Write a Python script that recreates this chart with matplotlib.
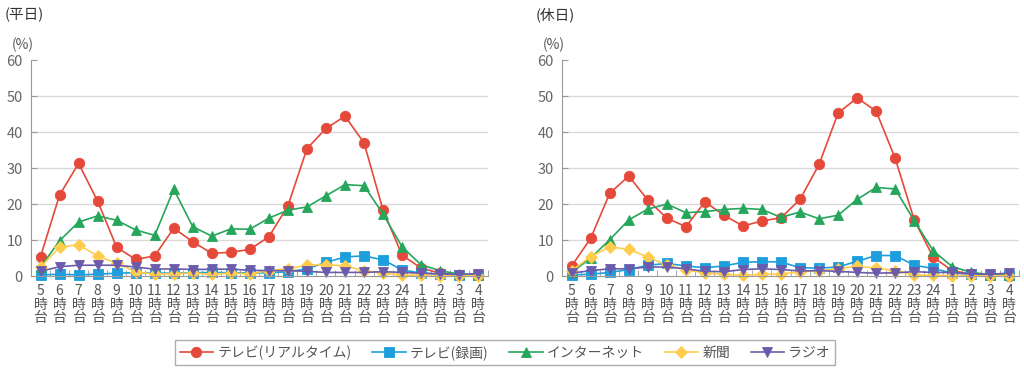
import matplotlib
matplotlib.use("Agg")
import matplotlib.pyplot as plt
import numpy as np

plt.rcParams['font.family'] = ['Noto Sans CJK JP', 'DejaVu Sans']

# === Data ===
hours = ["5", "6", "7", "8", "9", "10", "11", "12", "13", "14", "15", "16",
         "17", "18", "19", "20", "21", "22", "23", "24", "1", "2", "3", "4"]
series_names = ["テレビ(リアルタイム)", "テレビ(録画)", "インターネット", "新聞", "ラジオ"]

# 平日 (weekday)
wd_tv_real = [5.4, 22.5, 31.3, 20.8, 8.0, 4.6, 5.6, 13.3, 9.5, 6.3, 6.6, 7.4,
              10.9, 19.5, 35.4, 41.0, 44.4, 37.0, 18.3, 5.8, 2.2, 0.8, 0.3, 0.2]
wd_tv_rec = [0.3, 0.5, 0.3, 0.5, 0.8, 0.9, 0.8, 0.8, 0.9, 1.0, 0.9, 0.9,
             0.9, 1.2, 2.0, 3.8, 5.3, 5.6, 4.5, 1.7, 0.8, 0.5, 0.3, 0.2]
wd_net = [2.5, 9.8, 15.0, 16.7, 15.5, 12.8, 11.3, 24.1, 13.7, 11.1, 13.1, 13.0,
          16.1, 18.3, 19.2, 22.3, 25.4, 25.1, 17.2, 8.1, 3.1, 1.5, 0.5, 0.3]
wd_paper = [2.5, 8.0, 8.7, 5.6, 3.5, 1.2, 0.5, 0.7, 0.8, 0.5, 0.8, 0.6,
            1.5, 2.0, 3.0, 3.2, 2.8, 1.5, 0.8, 0.3, 0.2, 0.1, 0.1, 0.1]
wd_radio = [1.3, 2.6, 3.0, 3.0, 3.0, 2.5, 1.9, 2.0, 1.8, 1.9, 1.9, 1.6,
            1.5, 1.5, 1.3, 1.0, 1.0, 1.0, 1.2, 1.0, 0.8, 0.6, 0.4, 0.7]

# 休日 (holiday)
hd_tv_real = [2.8, 10.5, 23.0, 27.8, 21.1, 16.1, 13.7, 20.6, 16.9, 13.9, 15.3, 16.2,
              21.3, 31.0, 45.3, 49.5, 45.8, 32.7, 15.6, 5.2, 1.5, 0.5, 0.2, 0.1]
hd_tv_rec = [0.3, 0.5, 1.0, 1.8, 3.0, 3.5, 2.8, 2.3, 2.8, 3.8, 4.0, 3.9,
             2.3, 2.2, 2.5, 4.1, 5.7, 5.7, 3.0, 2.1, 0.8, 0.5, 0.2, 0.2]
hd_net = [1.0, 5.0, 10.1, 15.6, 18.6, 20.0, 17.6, 17.9, 18.5, 18.8, 18.5, 16.3,
          17.8, 15.9, 16.9, 21.3, 24.6, 24.2, 15.4, 7.0, 2.6, 1.0, 0.4, 0.2]
hd_paper = [1.5, 5.4, 8.1, 7.4, 5.3, 3.0, 1.8, 0.8, 0.5, 0.2, 0.5, 0.5,
            1.2, 1.5, 2.0, 2.7, 2.2, 1.5, 0.3, 0.2, 0.1, 0.1, 0.1, 0.1]
hd_radio = [0.8, 1.5, 2.0, 2.0, 2.5, 2.5, 2.0, 1.3, 1.2, 1.8, 2.0, 1.8,
            1.4, 1.5, 1.3, 1.0, 0.8, 0.9, 1.2, 1.0, 1.0, 0.6, 0.5, 0.8]

colors = ['#E5493A', '#1E9FDD', '#25A65B', '#FFCC4D', '#6C5AAB']
markers = ['o', 's', '^', 'D', 'v']
msizes = [7.5, 6.5, 7.5, 6.5, 7.5]

panels = [
    ("(平日)", [wd_tv_real, wd_tv_rec, wd_net, wd_paper, wd_radio]),
    ("(休日)", [hd_tv_real, hd_tv_rec, hd_net, hd_paper, hd_radio]),
]

fig = plt.figure(figsize=(10.24, 3.71), dpi=100)
axes_lefts = [0.0303, 0.549]
x = np.arange(len(hours))
xlabels = [h + "\n時\n台" for h in hours]

lines = []
for (title, data), left in zip(panels, axes_lefts):
    ax = fig.add_axes([left, 0.256, 0.446, 0.582])
    for vals, c, m, ms, name in zip(data, colors, markers, msizes, series_names):
        ln, = ax.plot(x, vals, color=c, marker=m, markersize=ms, linewidth=1.2,
                      markeredgecolor=c, markeredgewidth=0.6, clip_on=False, label=name)
        if left == axes_lefts[0]:
            lines.append(ln)
    ax.set_xlim(-0.42, 23.47)
    ax.set_ylim(0, 60)
    ax.set_yticks(range(0, 61, 10))
    ax.set_xticks(x)
    ax.set_xticklabels(xlabels, fontsize=10, linespacing=0.95, color='#555555')
    ax.set_xticks(np.arange(-0.5, 24, 1.0), minor=True)
    ax.tick_params(axis='x', which='major', length=0, pad=6)
    ax.tick_params(axis='x', which='minor', direction='in', length=4, color='#999999')
    ax.tick_params(axis='y', direction='in', length=4, color='#999999',
                   labelsize=10.5, labelcolor='#666666', pad=6)
    for yv in range(10, 60, 10):
        ax.axhline(yv, color='#d9d9d9', linewidth=1.0, zorder=0)
    ax.spines['top'].set_visible(False)
    ax.spines['right'].set_visible(False)
    ax.spines['left'].set_color('#999999')
    ax.spines['bottom'].set_color('#999999')
    pos = ax.get_position()
    fig.text(pos.x0 - 0.026, 0.96, title, fontsize=10.5, color='#333333', va='center')
    fig.text(pos.x0 - 0.019, 0.88, "(%)", fontsize=10, color='#555555', va='center')

leg = fig.legend(handles=lines, loc='center', bbox_to_anchor=(0.493, 0.05), ncol=5,
                 fontsize=10, frameon=True, fancybox=False, edgecolor='#999999',
                 handlelength=2.4, columnspacing=1.5, handletextpad=0.3,
                 borderpad=0.35)
leg.get_frame().set_linewidth(1.0)
for t in leg.get_texts():
    t.set_color('#555555')

fig.savefig("out.png", dpi=100)
